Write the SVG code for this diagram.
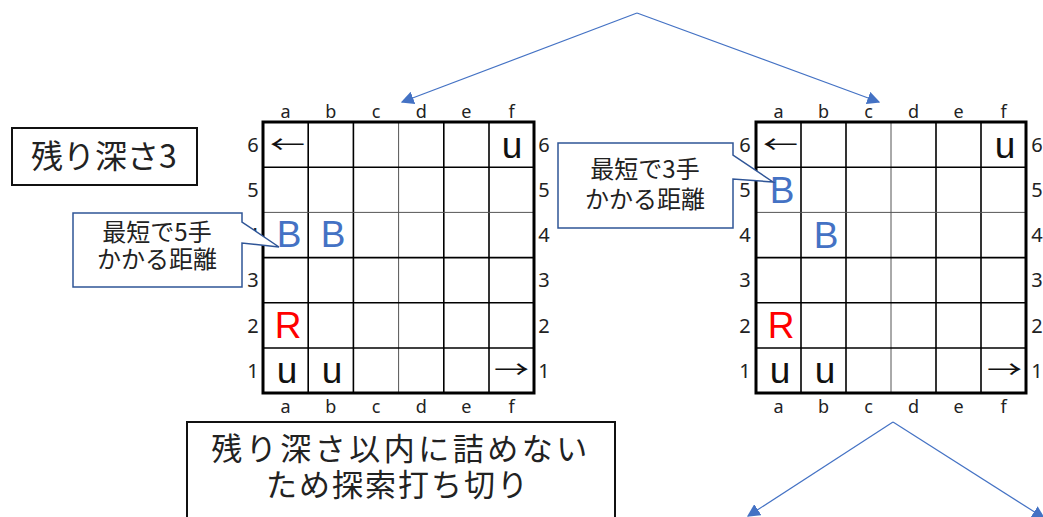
<svg xmlns="http://www.w3.org/2000/svg" width="1043" height="517" viewBox="0 0 1043 517">
<style>
.bg{fill:#fff}
.outer{fill:none;stroke:#000;stroke-width:3}
.in{stroke:#000;stroke-width:1.6}
.thin{stroke:#555;stroke-width:1}
.lab{font-family:"Noto Sans","Liberation Sans",sans-serif;font-size:18px;fill:#222;text-anchor:middle}
.num{font-family:"Noto Sans","Liberation Sans",sans-serif;font-size:20px;fill:#222;text-anchor:middle}
.pc{font-family:"Liberation Sans",Arial,sans-serif;font-size:37px;text-anchor:middle;fill:#111}
.blue{fill:#4472C4}
.red{fill:#FF0000}
.arr{font-family:"Noto Sans CJK JP",sans-serif;font-size:24px;fill:#111}
.jp{font-family:"Noto Sans CJK JP",sans-serif;fill:#222;text-anchor:middle}
.conn{stroke:#4472C4;stroke-width:1.2;fill:none;marker-end:url(#ah)}
.callout{fill:#fff;stroke:#2F5597;stroke-width:1.5}
.box{fill:#fff;stroke:#111;stroke-width:2}
</style>
<defs>
<marker id="ah" viewBox="0 0 10 10" refX="9" refY="5" markerWidth="13" markerHeight="13" markerUnits="userSpaceOnUse" orient="auto">
<path d="M0,0 L10,5 L0,10 Z" fill="#4472C4"/>
</marker>
</defs>
<rect class="bg" x="0" y="0" width="1043" height="517"/>

<g id="connectors">
<line class="conn" x1="637" y1="13" x2="402" y2="102"/>
<line class="conn" x1="637" y1="13" x2="879" y2="102"/>
<line class="conn" x1="893" y1="422" x2="748" y2="516"/>
<line class="conn" x1="893" y1="422" x2="1044" y2="518"/>
</g>

<g id="depth-label">
<rect class="box" x="12" y="128" width="185" height="57"/>
<text class="jp" x="104" y="168" font-size="32">残り深さ3</text>
</g>

<g id="board-left">
<g class="lab">
<text x="285.6" y="118">a</text><text x="330.8" y="118">b</text><text x="376" y="118">c</text><text x="421.2" y="118">d</text><text x="466.4" y="118">e</text><text x="511.6" y="118">f</text>
<text x="285.6" y="413">a</text><text x="330.8" y="413">b</text><text x="376" y="413">c</text><text x="421.2" y="413">d</text><text x="466.4" y="413">e</text><text x="511.6" y="413">f</text>
</g>
<g class="num">
<text x="253" y="152">6</text><text x="253" y="197">5</text><text x="253" y="242">4</text><text x="253" y="287">3</text><text x="253" y="333">2</text><text x="253" y="378">1</text>
<text x="544" y="152">6</text><text x="544" y="197">5</text><text x="544" y="242">4</text><text x="544" y="287">3</text><text x="544" y="333">2</text><text x="544" y="378">1</text>
</g>
<g>
<line class="in" x1="308.2" y1="122" x2="308.2" y2="393"/>
<line class="in" x1="353.4" y1="122" x2="353.4" y2="393"/>
<line class="thin" x1="398.6" y1="122" x2="398.6" y2="393"/>
<line class="in" x1="443.8" y1="122" x2="443.8" y2="393"/>
<line class="in" x1="489" y1="122" x2="489" y2="393"/>
<line class="in" x1="263" y1="167.2" x2="534" y2="167.2"/>
<line class="thin" x1="263" y1="212.4" x2="534" y2="212.4"/>
<line class="in" x1="263" y1="257.6" x2="534" y2="257.6"/>
<line class="in" x1="263" y1="302.8" x2="534" y2="302.8"/>
<line class="in" x1="263" y1="348" x2="534" y2="348"/>
<rect class="outer" x="263" y="122" width="271" height="271"/>
</g>
<text class="arr" x="270" y="153" textLength="35" lengthAdjust="spacingAndGlyphs">←</text>
<text class="pc" x="512" y="158">u</text>
<text class="pc blue" x="289" y="247">B</text>
<text class="pc blue" x="333" y="247">B</text>
<text class="pc red" x="288" y="338">R</text>
<text class="pc" x="287" y="383">u</text>
<text class="pc" x="332" y="383">u</text>
<text class="arr" x="494" y="378" textLength="35" lengthAdjust="spacingAndGlyphs">→</text>
</g>

<g id="callout-left">
<path class="callout" d="M73,213 H242 V222 L279,247 L242,243 V287 H73 Z"/>
<text class="jp" x="157" y="241" font-size="24"><tspan x="157">最短で5手</tspan><tspan x="157" dy="27">かかる距離</tspan></text>
</g>

<g id="board-right">
<g class="lab">
<text x="778.5" y="118">a</text><text x="823.5" y="118">b</text><text x="868.5" y="118">c</text><text x="913.5" y="118">d</text><text x="958.5" y="118">e</text><text x="1003.5" y="118">f</text>
<text x="778.5" y="413">a</text><text x="823.5" y="413">b</text><text x="868.5" y="413">c</text><text x="913.5" y="413">d</text><text x="958.5" y="413">e</text><text x="1003.5" y="413">f</text>
</g>
<g class="num">
<text x="745" y="152">6</text><text x="745" y="197">5</text><text x="745" y="242">4</text><text x="745" y="287">3</text><text x="745" y="333">2</text><text x="745" y="378">1</text>
<text x="1037" y="152">6</text><text x="1037" y="197">5</text><text x="1037" y="242">4</text><text x="1037" y="287">3</text><text x="1037" y="333">2</text><text x="1037" y="378">1</text>
</g>
<g>
<line class="in" x1="801" y1="122" x2="801" y2="393"/>
<line class="in" x1="846" y1="122" x2="846" y2="393"/>
<line class="thin" x1="891" y1="122" x2="891" y2="393"/>
<line class="in" x1="936" y1="122" x2="936" y2="393"/>
<line class="in" x1="981" y1="122" x2="981" y2="393"/>
<line class="in" x1="756" y1="167.2" x2="1026" y2="167.2"/>
<line class="thin" x1="756" y1="212.4" x2="1026" y2="212.4"/>
<line class="in" x1="756" y1="257.6" x2="1026" y2="257.6"/>
<line class="in" x1="756" y1="302.8" x2="1026" y2="302.8"/>
<line class="in" x1="756" y1="348" x2="1026" y2="348"/>
<rect class="outer" x="756" y="122" width="270" height="271"/>
</g>
<text class="arr" x="763" y="153" textLength="35" lengthAdjust="spacingAndGlyphs">←</text>
<text class="pc" x="1005" y="158">u</text>
<text class="pc blue" x="782" y="203">B</text>
<text class="pc blue" x="826" y="248">B</text>
<text class="pc red" x="781" y="338">R</text>
<text class="pc" x="780" y="383">u</text>
<text class="pc" x="825" y="383">u</text>
<text class="arr" x="987" y="378" textLength="35" lengthAdjust="spacingAndGlyphs">→</text>
</g>

<g id="callout-right">
<path class="callout" d="M558,143 H733 V155 L773,182 L733,179 V228 H558 Z"/>
<text class="jp" x="645" y="178" font-size="24"><tspan x="645">最短で3手</tspan><tspan x="645" dy="30">かかる距離</tspan></text>
</g>

<g id="cutoff-note">
<rect class="box" x="187" y="422" width="428" height="100"/>
<text class="jp" x="401" y="460" font-size="31"><tspan x="401" letter-spacing="3.5">残り深さ以内に詰めない</tspan><tspan x="398" dy="36" letter-spacing="2">ため探索打ち切り</tspan></text>
</g>
</svg>
